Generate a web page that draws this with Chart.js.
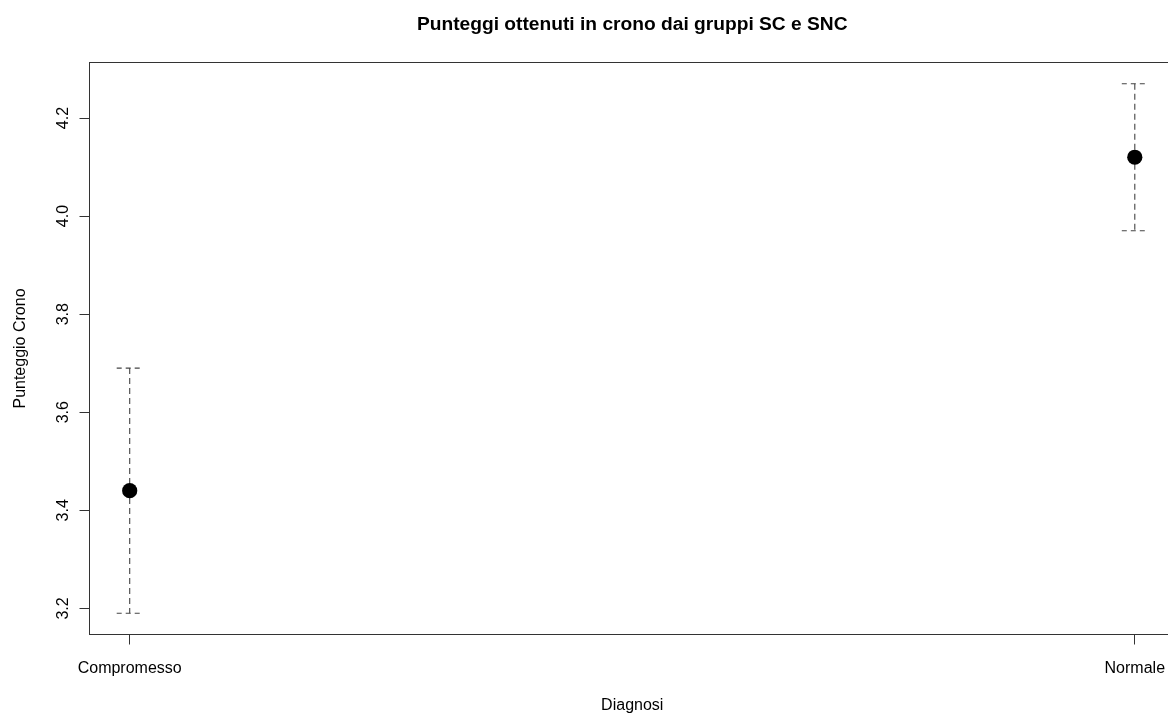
<!DOCTYPE html>
<html>
<head>
<meta charset="utf-8">
<script src="https://cdn.jsdelivr.net/npm/chart.js@4/dist/chart.umd.min.js"></script>
<style>
  html, body { margin: 0; padding: 0; background: #fff; overflow: hidden; }
  #crono { display: block; }
</style>
</head>
<body>
<canvas id="crono" width="1230" height="713"></canvas>
<script>
// dati: media e intervallo per ciascun gruppo
const categories = ["Compromesso", "Normale"];
const means = [3.44, 4.12];
const lower = [3.19, 3.97];
const upper = [3.69, 4.27];
const yTicks = [3.2, 3.4, 3.6, 3.8, 4.0, 4.2];

const titleText = "Punteggi ottenuti in crono dai gruppi SC e SNC";
const xTitle = "Diagnosi";
const yTitle = "Punteggio Crono";

const FONT = "'Liberation Sans', Arial, Helvetica, sans-serif";
const AXIS_COLOR = "#333";

// limiti come in R: intervallo dei dati esteso del 4%
const yRange = Math.max(...upper) - Math.min(...lower);
const yMin = Math.min(...lower) - 0.04 * yRange;
const yMax = Math.max(...upper) + 0.04 * yRange;
const xMin = 1 - 0.04 * (categories.length - 1);
const xMax = categories.length + 0.04 * (categories.length - 1);

// barre d'errore tratteggiate
const errorBars = {
  id: "errorBars",
  beforeDatasetsDraw(chart) {
    const { ctx, scales } = chart;
    ctx.save();
    ctx.strokeStyle = "#444";
    ctx.lineWidth = 1.1;
    categories.forEach((c, i) => {
      const px = scales.x.getPixelForValue(i + 1);
      const yHi = scales.y.getPixelForValue(upper[i]);
      const yLo = scales.y.getPixelForValue(lower[i]);
      ctx.setLineDash([6, 4]);
      ctx.beginPath();
      ctx.moveTo(px, yHi);
      ctx.lineTo(px, yLo);
      ctx.stroke();
      ctx.setLineDash([5, 4]);
      ctx.beginPath();
      ctx.moveTo(px - 13, yHi);
      ctx.lineTo(px + 13, yHi);
      ctx.moveTo(px - 13, yLo);
      ctx.lineTo(px + 13, yLo);
      ctx.stroke();
    });
    ctx.restore();
  }
};

// cornice, etichette e titoli in stile grafico base di R
const frameAndText = {
  id: "frameAndText",
  afterDraw(chart) {
    const { ctx, chartArea, scales } = chart;
    ctx.save();
    ctx.strokeStyle = AXIS_COLOR;
    ctx.lineWidth = 1;
    ctx.strokeRect(chartArea.left, chartArea.top, chartArea.right - chartArea.left, chartArea.bottom - chartArea.top);

    const midX = (chartArea.left + chartArea.right) / 2;
    const midY = (chartArea.top + chartArea.bottom) / 2;

    ctx.fillStyle = "#000";
    ctx.textAlign = "center";
    ctx.textBaseline = "alphabetic";

    // titolo
    ctx.font = "bold 19.2px " + FONT;
    ctx.fillText(titleText, midX, 30);

    // etichette asse x
    ctx.font = "16px " + FONT;
    categories.forEach((c, i) => {
      ctx.fillText(c, scales.x.getPixelForValue(i + 1), 672.5);
    });
    ctx.fillText(xTitle, midX, 710);

    // etichette asse y (ruotate)
    yTicks.forEach((v) => {
      ctx.save();
      ctx.translate(67.5, scales.y.getPixelForValue(v));
      ctx.rotate(-Math.PI / 2);
      ctx.fillText(v.toFixed(1), 0, 0);
      ctx.restore();
    });
    ctx.save();
    ctx.translate(25, midY);
    ctx.rotate(-Math.PI / 2);
    ctx.fillText(yTitle, 0, 0);
    ctx.restore();

    ctx.restore();
  }
};

const ctx = document.getElementById("crono").getContext("2d");
new Chart(ctx, {
  type: "scatter",
  data: {
    datasets: [{
      data: means.map((m, i) => ({ x: i + 1, y: m })),
      pointRadius: 7.6,
      pointHoverRadius: 7.6,
      backgroundColor: "#000",
      borderWidth: 0
    }]
  },
  options: {
    responsive: false,
    animation: false,
    devicePixelRatio: 1,
    layout: { padding: { left: 79.5, top: 62.5, right: 55, bottom: 68.5 } },
    plugins: {
      legend: { display: false },
      tooltip: { enabled: false },
      title: { display: false }
    },
    scales: {
      x: {
        type: "linear",
        min: xMin,
        max: xMax,
        afterBuildTicks: (axis) => { axis.ticks = categories.map((c, i) => ({ value: i + 1 })); },
        ticks: { display: false },
        grid: { drawOnChartArea: false, drawTicks: true, tickLength: 10, color: AXIS_COLOR },
        border: { display: false }
      },
      y: {
        type: "linear",
        min: yMin,
        max: yMax,
        afterBuildTicks: (axis) => { axis.ticks = yTicks.map((v) => ({ value: v })); },
        ticks: { display: false },
        grid: { drawOnChartArea: false, drawTicks: true, tickLength: 10, color: AXIS_COLOR },
        border: { display: false }
      }
    }
  },
  plugins: [errorBars, frameAndText]
});
</script>
</body>
</html>
